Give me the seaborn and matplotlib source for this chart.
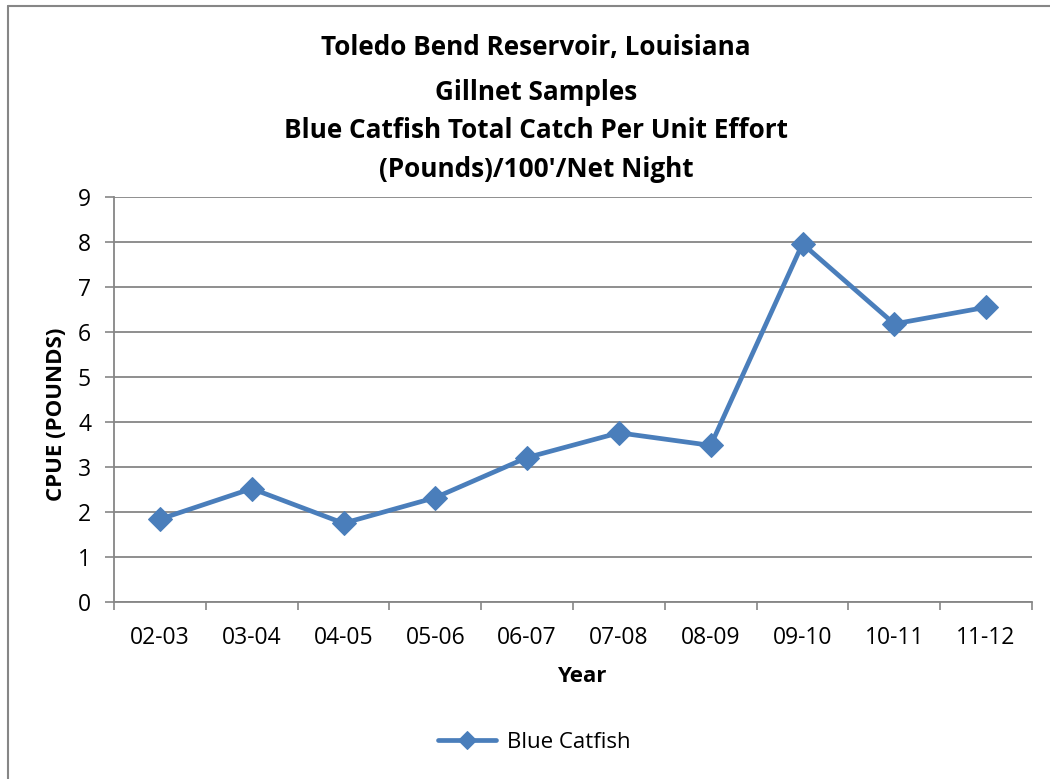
import matplotlib
matplotlib.use("Agg")
import matplotlib.pyplot as plt
from matplotlib.lines import Line2D
from matplotlib.ticker import FixedLocator, NullFormatter
import seaborn as sns
import pandas as pd

years = ["02-03", "03-04", "04-05", "05-06", "06-07", "07-08", "08-09", "09-10", "10-11", "11-12"]
cpue = [1.84, 2.52, 1.75, 2.32, 3.21, 3.76, 3.48, 7.96, 6.18, 6.55]
series_name = "Blue Catfish"
title_lines = ["Toledo Bend Reservoir, Louisiana", "Gillnet Samples",
               "Blue Catfish Total Catch Per Unit Effort", "(Pounds)/100'/Net Night"]

sns.set_theme(style="white")
plt.rcParams['font.family'] = ['Open Sans', 'DejaVu Sans']
plt.rcParams['text.color'] = 'black'

W, H = 1050, 779
df = pd.DataFrame({"Year": years, "CPUE": cpue, "Series": series_name})

fig = plt.figure(figsize=(W / 100, H / 100), dpi=100)
ax = fig.add_axes([114 / W, 1 - 602 / H, 918 / W, 405 / H])

color = "#4A7EBB"
sns.lineplot(data=df, x="Year", y="CPUE", hue="Series", palette=[color], marker="D",
             markersize=12, linewidth=3.4, markeredgecolor=color, ax=ax, sort=False)

ax.set_ylim(0, 9)
ax.set_xlim(-0.5, len(years) - 0.5)
ax.set_yticks(range(0, 10))
ax.set_xticks(range(len(years)))
ax.set_xticklabels(years)
ax.xaxis.set_minor_locator(FixedLocator([i - 0.5 for i in range(len(years) + 1)]))
ax.xaxis.set_minor_formatter(NullFormatter())
ax.tick_params(axis="x", which="major", length=0, labelsize=16.5, pad=17, labelcolor="black")
ax.tick_params(axis="x", which="minor", length=6, width=1.2, color="#868686", bottom=True)
ax.tick_params(axis="y", which="major", length=6.5, width=1.2, color="#868686", left=True,
               labelsize=16.5, pad=10, labelcolor="black")
ax.grid(axis="y", color="#868686", linewidth=1.3)
ax.set_axisbelow(True)
for s in ["top", "right"]:
    ax.spines[s].set_visible(False)
for s in ["left", "bottom"]:
    ax.spines[s].set_color("#868686")
    ax.spines[s].set_linewidth(1.3)

ax.set_xlabel("Year", fontsize=16, fontweight="bold", color="black")
ax.set_ylabel("CPUE (POUNDS)", fontsize=16, fontweight="bold", color="black")
ax.xaxis.label.set_va("center")
ax.yaxis.label.set_va("center")
ax.xaxis.set_label_coords((582 - 114) / 918, (602 - 676) / 405)
ax.yaxis.set_label_coords((56 - 114) / 918, (602 - 414) / 405)

baselines = [55, 100, 138, 177]
for txt, yb in zip(title_lines, baselines):
    fig.text(536 / W, 1 - yb / H, txt, ha="center", va="baseline",
             fontsize=18.8, fontweight="bold", color="black")

leg = ax.legend(loc="center", frameon=False, fontsize=16, handlelength=2.6, handletextpad=0.5,
                markerscale=0.75,
                bbox_to_anchor=(534 / W, 1 - 742 / H), bbox_transform=fig.transFigure)
for t in leg.get_texts():
    t.set_color("black")

fig.add_artist(Line2D([8 / W, 8 / W], [0, 1 - 6 / H], transform=fig.transFigure,
                      color="#868686", linewidth=1.5))
fig.add_artist(Line2D([8 / W, 1], [1 - 6 / H, 1 - 6 / H], transform=fig.transFigure,
                      color="#868686", linewidth=1.5))

fig.savefig("out.png", dpi=100)
